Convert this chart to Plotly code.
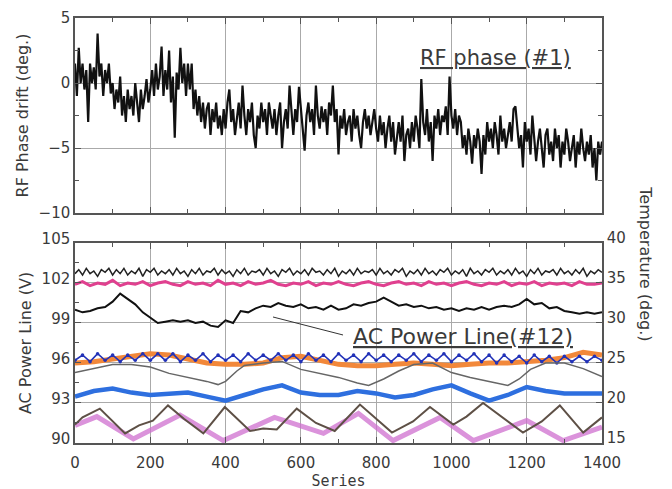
import plotly.graph_objects as go

# ---------------- data ----------------
# top panel: RF phase drift (#1), sample index step 5
rf_x = list(range(0, 1401, 5))
rf_phase = [
    1.5, -1.0, 2.7, 0.0, 1.5, -0.5, 1.0, -3.0, 1.5, 0.0, 1.2, -0.5, 3.8, 0.5, 1.5, -1.0, 1.0, 0.0, 1.5, -0.8,
    0.0, -2.0, -0.5, -1.5, 0.5, -2.5, -1.0, -3.0, -0.5, -2.0, -1.0, -2.5, 0.0, -1.5, -3.0, -0.5, -2.0, -1.0, 0.3, -1.5,
    -0.5, 1.0, -1.0, 1.5, -0.5, 0.5, 2.8, -1.0, 1.0, -0.5, 2.5, -1.5, 0.5, -4.2, 0.8, -0.5, 2.7, 0.0, 1.5, -1.0,
    1.5, -0.5, 1.5, -2.0, -0.5, -2.5, -1.0, -3.0, -1.5, -3.5, -2.0, -1.5, -4.0, -2.0, -3.0, -1.5, -3.5, -2.5, -4.0, -2.0,
    -3.5, -1.5, -0.5, -3.0, -2.0, -4.0, -2.5, -1.5, -3.5, -0.2, -2.5, -4.0, -2.0, -3.0, -1.5, -4.0, -5.0, -2.5, -3.5, -1.5,
    -3.0, -2.0, -4.0, -1.5, -2.5, -3.5, -2.0, -4.0, -2.5, -1.5, -5.0, -3.0, -2.0, -3.5, -0.2, -2.5, -4.0, -2.0, -3.0, -0.3,
    -2.0, -3.5, -5.2, -2.5, -1.5, -3.0, -2.0, -4.0, -0.2, -2.5, -3.5, -1.8, -3.0, -2.0, -4.0, -1.5, -2.5, -0.2, -3.0, -2.0,
    -5.5, -2.5, -3.5, -2.0, -4.0, -3.0, -2.5, -4.5, -2.0, -3.5, -2.5, -4.0, -5.0, -3.0, -2.0, -3.5, -2.5, -4.0, -3.0, -2.0,
    -3.5, -4.5, -2.5, -4.0, -3.0, -5.0, -3.5, -2.5, -4.5, -3.0, -5.5, -4.0, -3.0, -4.5, -2.5, -6.0, -4.0, -3.5, -5.0, -3.0,
    -4.5, -2.5, -3.5, -5.0, 0.3, -3.0, -4.0, -2.0, -4.5, -3.0, -6.0, -2.5, -3.5, -2.0, -4.0, -2.5, -3.0, -1.8, -4.0, 0.5,
    -2.5, -3.5, -2.0, -4.0, -2.5, -3.0, -5.0, -4.0, -5.5, -3.5, -4.5, -6.2, -4.0, -5.0, -3.5, -4.5, -7.0, -4.0, -5.5, -3.0,
    -4.5, -3.5, -5.0, -3.0, -4.0, -5.5, -2.5, -4.5, -3.5, -5.0, -4.0, -3.0, -4.5, -2.0, -1.8, -3.5, -5.0, -4.0, -6.5, -3.0,
    -4.5, -3.5, -5.5, -2.5, -4.0, -6.0, -4.5, -3.5, -5.0, -6.5, -4.0, -3.5, -5.5, -4.5, -6.0, -3.5, -5.0, -4.0, -6.5, -4.5,
    -5.5, -3.5, -4.5, -6.0, -5.0, -4.0, -6.5, -4.5, -5.5, -3.5, -5.0, -6.0, -4.5, -5.5, -4.0, -6.5, -5.0, -7.5, -4.5, -5.5,
    -4.5,
]

# bottom panel: AC power lines (V), left axis
x10 = list(range(0, 1401, 10))
x20 = list(range(0, 1401, 20))
x50 = list(range(0, 1401, 50))

ac_top_black = [
    102.7, 103.0, 102.6, 103.1, 102.7, 102.9, 102.5, 103.0, 102.8, 103.1,
    102.6, 103.0, 102.7, 103.1, 102.6, 102.9, 102.7, 103.1, 102.5, 103.0,
    102.8, 103.1, 102.6, 102.9, 102.7, 103.0, 102.6, 103.1, 102.7, 102.9,
    102.5, 103.0, 102.7, 103.1, 102.6, 102.9, 102.8, 103.1, 102.6, 103.0,
    102.7, 102.9, 102.5, 103.0, 102.7, 103.1, 102.6, 102.9, 102.8, 103.0,
    102.6, 103.1, 102.7, 102.9, 102.5, 103.0, 102.8, 103.1, 102.6, 102.9,
    102.7, 103.0, 102.6, 103.1, 102.8, 102.9, 102.6, 103.0, 102.7, 103.1,
    102.5, 102.9, 102.7, 103.0, 102.6, 103.1, 102.7, 102.9, 102.8, 103.0,
    102.6, 103.1, 102.7, 102.9, 102.6, 103.0, 102.8, 103.1, 102.5, 102.9,
    102.7, 103.0, 102.6, 103.1, 102.7, 102.9, 102.6, 103.0, 102.8, 103.1,
    102.6, 102.9, 102.7, 103.0, 102.5, 103.1, 102.7, 102.9, 102.6, 103.0,
    102.8, 103.1, 102.6, 102.9, 102.7, 103.0, 102.6, 103.1, 102.7, 102.9,
    102.5, 103.0, 102.7, 103.1, 102.6, 102.9, 102.8, 103.0, 102.6, 103.1,
    102.7, 102.9, 102.6, 103.0, 102.7, 103.1, 102.5, 102.9, 102.7, 103.0,
    102.8,
]

ac_magenta = [
    101.9, 102.1, 101.8, 102.0, 101.9, 102.2, 101.8, 102.0, 101.9, 102.1,
    101.8, 102.0, 102.1, 101.9, 101.8, 102.1, 101.9, 102.0, 101.8, 102.2,
    101.9, 102.0, 101.8, 102.1, 101.9, 102.0, 102.2, 101.9, 101.8, 102.0,
    101.9, 102.1, 101.8, 102.0, 101.9, 102.1, 101.9, 101.8, 102.0, 102.1,
    101.9, 101.8, 102.0, 102.1, 101.9, 102.0, 101.8, 102.1, 101.9, 102.0,
    101.8, 102.0, 102.1, 101.9, 101.8, 102.0, 101.9, 102.1, 101.8, 102.0,
    101.9, 102.1, 101.8, 102.0, 101.9, 102.0, 101.8, 102.1, 101.9, 101.9,
    102.0,
]

ac_line12 = [
    100.0, 99.8, 99.9, 100.1, 100.2, 100.6, 101.2, 100.8, 100.4, 99.8,
    99.4, 99.0, 99.1, 99.2, 99.1, 99.2, 99.0, 99.1, 98.8, 98.7,
    99.2, 99.0, 99.9, 99.8, 100.1, 100.3, 100.2, 100.5, 100.3, 100.2,
    100.4, 100.1, 100.2, 100.0, 100.3, 100.0, 100.1, 100.4, 100.3, 100.5,
    100.6, 100.9, 100.6, 100.3, 100.4, 100.2, 100.3, 100.1, 100.2, 100.0,
    100.1, 99.9, 100.1, 100.0, 100.2, 100.0, 100.2, 100.3, 100.2, 100.4,
    100.8, 100.4, 100.5, 100.1, 100.2, 99.9, 99.8, 99.7, 99.8, 99.7,
    99.8,
]

ac_orange = [
    96.0, 96.1, 96.3, 96.5, 96.7, 96.6, 96.3, 96.0, 95.9, 95.9,
    96.0, 96.4, 96.5, 96.2, 95.9, 95.8, 95.8, 95.9, 96.0, 95.9,
    95.8, 95.9, 96.0, 96.0, 96.1, 96.2, 96.4, 96.8, 96.6,
]

ac_blue = [
    96.2, 96.6, 96.1, 96.7, 96.2, 96.6, 96.1, 96.6, 96.2, 96.7,
    96.2, 96.7, 96.2, 96.7, 96.1, 96.6, 96.2, 96.7, 96.1, 96.6,
    96.2, 96.6, 96.1, 96.7, 96.2, 96.6, 96.2, 96.7, 96.2, 96.6,
    96.1, 96.7, 96.2, 96.6, 96.1, 96.7, 96.2, 96.6, 96.1, 96.7,
    96.2, 96.6, 96.1, 96.6, 96.2, 96.7, 96.1, 96.6, 96.2, 96.7,
    96.1, 96.6, 96.2, 96.7, 96.1, 96.6, 96.0, 96.6, 96.1, 96.5,
    96.0, 96.6, 96.1, 96.5, 96.0, 96.5, 96.1, 96.5, 96.1, 96.5,
    96.2,
]

# temperatures (deg.), right axis
temp_gray_x = [0, 50, 100, 150, 200, 250, 300, 350, 380, 400, 430, 450, 500, 550, 600, 650, 700,
               750, 780, 820, 860, 900, 950, 1000, 1050, 1100, 1150, 1180, 1210, 1250, 1300, 1350, 1400]
temp_gray = [23.8, 24.3, 24.8, 24.8, 24.5, 23.7, 23.2, 22.7, 22.3, 22.7, 24.0, 24.7, 25.0, 25.2, 24.2, 23.7, 23.2,
             22.5, 22.2, 23.0, 24.0, 24.8, 25.0, 23.8, 23.2, 22.7, 22.2, 23.0, 24.2, 25.0, 25.0, 24.3, 23.3]

temp_lightblue = [20.8, 21.5, 21.8, 21.3, 21.0, 21.2, 21.3, 20.8, 20.3, 21.0,
                  21.7, 22.2, 21.3, 21.0, 21.0, 21.5, 21.2, 20.7, 21.0, 21.7,
                  22.2, 21.2, 20.3, 21.0, 22.0, 21.5, 21.2, 21.2, 21.2]

temp_brown_x = [0, 20, 66, 133, 170, 207, 247, 290, 341, 398, 465, 500, 536, 589, 640, 690, 757,
                842, 898, 943, 1005, 1040, 1084, 1140, 1190, 1240, 1288, 1350, 1400]
temp_brown = [17.3, 18.2, 19.3, 16.2, 17.2, 17.8, 19.7, 18.0, 16.2, 19.5, 16.5, 16.8, 16.7, 19.3, 17.5, 16.5, 19.8,
              16.3, 17.7, 19.5, 17.3, 18.3, 20.0, 18.0, 16.3, 17.7, 19.7, 16.3, 18.2]

temp_violet_x = [0, 58, 155, 279, 394, 530, 660, 753, 845, 970, 1058, 1200, 1297, 1400]
temp_violet = [17.2, 18.3, 15.5, 18.5, 15.3, 18.2, 16.2, 18.7, 15.3, 18.2, 15.3, 17.8, 15.3, 17.0]

x_ticks = [0, 200, 400, 600, 800, 1000, 1200, 1400]

# ---------------- figure ----------------
FONT = "DejaVu Sans, Liberation Sans, Arial, sans-serif"
TXT = "#3a3a3a"
fig = go.Figure()

fig.add_trace(go.Scatter(x=rf_x, y=rf_phase, mode="lines", line=dict(color="#111", width=2.2),
                         xaxis="x", yaxis="y", name="RF phase (#1)"))

fig.add_trace(go.Scatter(x=x50, y=temp_lightblue, mode="lines", line=dict(color="#2e6fdf", width=4.5),
                         xaxis="x2", yaxis="y3", name="T1"))
fig.add_trace(go.Scatter(x=temp_violet_x, y=temp_violet, mode="lines", line=dict(color="#cf6fcf", width=5),
                         opacity=0.75, xaxis="x2", yaxis="y3", name="T2"))
fig.add_trace(go.Scatter(x=temp_brown_x, y=temp_brown, mode="lines", line=dict(color="#5e5046", width=2),
                         xaxis="x2", yaxis="y3", name="T3"))
fig.add_trace(go.Scatter(x=temp_gray_x, y=temp_gray, mode="lines", line=dict(color="#666", width=1.5),
                         xaxis="x2", yaxis="y3", name="T4"))
fig.add_trace(go.Scatter(x=x50, y=ac_orange, mode="lines", line=dict(color="#f2883a", width=5),
                         xaxis="x2", yaxis="y2", name="AC orange"))
fig.add_trace(go.Scatter(x=x20, y=ac_blue, mode="lines+markers", line=dict(color="#2232b8", width=1.6),
                         marker=dict(size=3.5, color="#2232b8"), xaxis="x2", yaxis="y2", name="AC blue"))
fig.add_trace(go.Scatter(x=x20, y=ac_magenta, mode="lines", line=dict(color="#e0408f", width=3),
                         xaxis="x2", yaxis="y2", name="AC magenta"))
fig.add_trace(go.Scatter(x=x10, y=ac_top_black, mode="lines", line=dict(color="#222", width=1.5),
                         xaxis="x2", yaxis="y2", name="AC black"))
fig.add_trace(go.Scatter(x=x20, y=ac_line12, mode="lines", line=dict(color="#111", width=2),
                         xaxis="x2", yaxis="y2", name="AC Power Line(#12)"))

axis_common = dict(showline=True, linecolor="#555", linewidth=1.5, mirror="ticks", ticks="inside",
                   ticklen=6, tickcolor="#555", showgrid=True, gridcolor="#aaa", gridwidth=1,
                   zeroline=False, automargin=False,
                   tickfont=dict(size=15, color=TXT, family=FONT))

# the page body adds an 8 px offset, compensated in the margins
fig.update_layout(
    width=672, height=489,
    margin=dict(l=67, r=78, t=10, b=54),
    paper_bgcolor="white", plot_bgcolor="white",
    showlegend=False,
    font=dict(family=FONT, color=TXT),
    xaxis=dict(axis_common, domain=[0, 1], range=[0, 1400], tickvals=x_ticks, showticklabels=False,
               minor=dict(dtick=100, tick0=0, ticks="inside", ticklen=4, tickcolor="#555", showgrid=False),
               anchor="y"),
    yaxis=dict(axis_common, domain=[0.541, 1], range=[-10, 5], dtick=5, anchor="x",
               minor=dict(dtick=2.5, tick0=0, ticks="inside", ticklen=4, tickcolor="#555", showgrid=False),
               title=dict(text="RF Phase drift (deg.)", font=dict(size=16, color=TXT, family=FONT), standoff=6)),
    xaxis2=dict(axis_common, domain=[0, 1], range=[0, 1400], tickvals=x_ticks, anchor="y2",
                ticklabelstandoff=5,
                minor=dict(dtick=100, tick0=0, ticks="inside", ticklen=4, tickcolor="#555", showgrid=False),
                title=dict(text="Series", font=dict(size=15, color=TXT, family="DejaVu Sans Mono"),
                           standoff=0)),
    yaxis2=dict(axis_common, domain=[0, 0.4706], range=[90, 105], dtick=3, anchor="x2", mirror=False,
                ticklabelshift=-4,
                minor=dict(dtick=1.5, tick0=0, ticks="inside", ticklen=4, tickcolor="#555", showgrid=False),
                title=dict(text="AC Power Line (V)", font=dict(size=16, color=TXT, family=FONT), standoff=6)),
    yaxis3=dict(range=[15, 40], dtick=5, overlaying="y2", side="right", anchor="x2", automargin=False,
                showline=True, linecolor="#555", linewidth=1.5, ticks="inside", ticklen=6, tickcolor="#555",
                ticklabelshift=-5,
                showgrid=False, zeroline=False, tickfont=dict(size=15, color=TXT, family=FONT)),
)

fig.add_annotation(text="<u>RF phase (#1)</u>", x=1118, y=1.9, xref="x", yref="y", showarrow=False,
                   font=dict(size=21, color=TXT, family=FONT))
fig.add_annotation(text="<u>AC Power Line(#12)</u>", x=1030, y=97.95, xref="x2", yref="y2", showarrow=False,
                   font=dict(size=22, color=TXT, family=FONT))
# leader line from the label to the #12 trace
fig.add_shape(type="line", x0=526, y0=99.45, x1=712, y1=98.1, xref="x2", yref="y2",
              line=dict(color="#333", width=1))
fig.add_annotation(text="Temperature (deg.)", textangle=90, x=1.104, y=0.235, xref="paper", yref="paper",
                   showarrow=False, font=dict(size=16, color=TXT, family=FONT))

fig.write_html("out.html")
